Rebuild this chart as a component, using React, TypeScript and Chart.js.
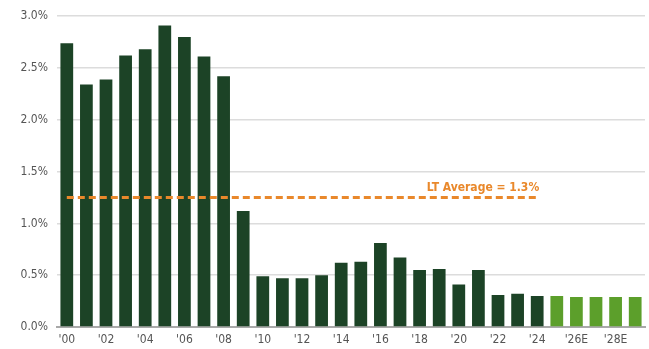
import React, { useEffect, useRef } from "react";
import { Chart, registerables } from "chart.js";

Chart.register(...registerables);

// Year labels; forecast years carry an "E" suffix
const YEARS: string[] = [
  "'00", "'01", "'02", "'03", "'04", "'05", "'06", "'07", "'08", "'09",
  "'10", "'11", "'12", "'13", "'14", "'15", "'16", "'17", "'18", "'19",
  "'20", "'21", "'22", "'23", "'24", "'25E", "'26E", "'27E", "'28E", "'29E",
];

// Annual rate, percent (2000–2024 actual)
const ACTUAL: number[] = [
  2.74, 2.34, 2.39, 2.62, 2.68, 2.91, 2.80, 2.61, 2.42, 1.12,
  0.49, 0.47, 0.47, 0.50, 0.62, 0.63, 0.81, 0.67, 0.55, 0.56,
  0.41, 0.55, 0.31, 0.32, 0.30,
];

// Estimates, percent (2025E–2029E)
const ESTIMATE: number[] = [0.30, 0.29, 0.29, 0.29, 0.29];

// Long-term average and the last year it spans
const LT_AVERAGE = 1.25;
const LT_AVERAGE_END = "'24";

const Y_TICK_STEP = 0.5;
const Y_MAX = 3.0;

const DARK_GREEN = "#1c4326";
const LIGHT_GREEN = "#5c9f2b";
const ORANGE = "#e9882b";
const LABEL_FONT = "'Liberation Sans Narrow', 'DejaVu Sans Condensed', Arial, sans-serif";

const averageLabel = {
  id: "averageLabel",
  afterDatasetsDraw(chart: any) {
    const { ctx, scales } = chart;
    const x = scales.x.getPixelForValue(YEARS.indexOf(LT_AVERAGE_END));
    const y = scales.y.getPixelForValue(LT_AVERAGE);
    ctx.save();
    ctx.font = `bold 12px ${LABEL_FONT}`;
    ctx.fillStyle = ORANGE;
    ctx.textAlign = "right";
    ctx.textBaseline = "alphabetic";
    ctx.fillText(`LT Average = ${LT_AVERAGE.toFixed(1)}%`, x + 2, y - 7);
    ctx.restore();
  },
};

export default function App() {
  const canvasRef = useRef<HTMLCanvasElement | null>(null);

  useEffect(() => {
    if (!canvasRef.current) return;
    const endIdx = YEARS.indexOf(LT_AVERAGE_END);
    const barValues = [...ACTUAL, ...ESTIMATE];
    const barColors = barValues.map((_, i) => (i < ACTUAL.length ? DARK_GREEN : LIGHT_GREEN));
    const avgLine = YEARS.map((_, i) => (i <= endIdx ? LT_AVERAGE : null));

    const chart = new Chart(canvasRef.current, {
      type: "bar",
      data: {
        labels: YEARS,
        datasets: [
          {
            type: "line",
            data: avgLine,
            borderColor: ORANGE,
            borderWidth: 3,
            borderDash: [7, 4],
            pointRadius: 0,
            fill: false,
            order: 0,
          } as any,
          {
            type: "bar",
            data: barValues,
            backgroundColor: barColors,
            borderWidth: 0,
            categoryPercentage: 1,
            barPercentage: 0.65,
            order: 1,
          },
        ],
      },
      options: {
        responsive: false,
        animation: false,
        layout: { padding: { top: 13, right: 4, left: 0, bottom: 0 } },
        plugins: {
          legend: { display: false },
          tooltip: { enabled: false },
          title: { display: false },
        },
        scales: {
          x: {
            grid: { display: false, drawTicks: false },
            border: { display: true, color: "#a9a9a9", width: 2 },
            ticks: {
              autoSkip: false,
              maxRotation: 0,
              padding: 6,
              color: "#555555",
              font: { family: LABEL_FONT, size: 12 },
              callback: (_v: any, i: number) => (i % 2 === 0 ? YEARS[i] : ""),
            },
            afterFit: (s: any) => {
              s.height = 22;
            },
          },
          y: {
            min: 0,
            max: Y_MAX,
            grid: { color: "#dcdcdc", lineWidth: 1.5, drawTicks: false },
            border: { display: false },
            ticks: {
              stepSize: Y_TICK_STEP,
              padding: 9,
              color: "#555555",
              font: { family: LABEL_FONT, size: 12 },
              callback: (v: any) => `${Number(v).toFixed(1)}%`,
            },
            afterFit: (s: any) => {
              s.width = 57;
            },
          },
        },
      },
      plugins: [averageLabel],
    });
    return () => chart.destroy();
  }, []);

  return (
    <div style={{ position: "absolute", left: 0, top: 0, width: 649, height: 349, background: "#fff" }}>
      <canvas ref={canvasRef} width={649} height={349} />
    </div>
  );
}
